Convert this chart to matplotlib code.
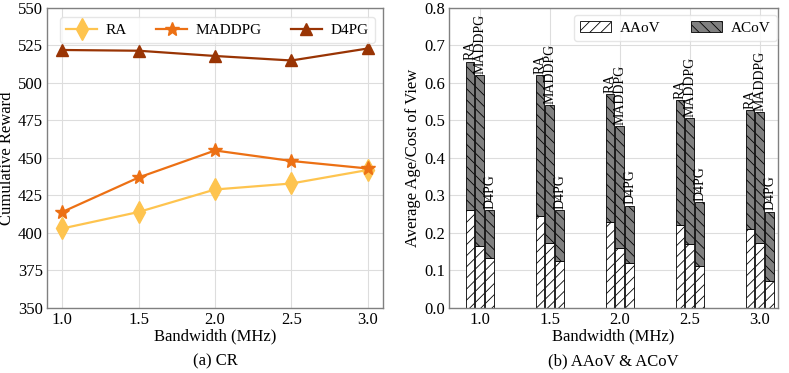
import numpy as np
import matplotlib
matplotlib.use("Agg")
import matplotlib.pyplot as plt
from matplotlib.patches import Patch

plt.rcParams['font.family'] = ['Liberation Serif', 'DejaVu Serif']
plt.rcParams['hatch.linewidth'] = 0.6

bandwidth = [1.0, 1.5, 2.0, 2.5, 3.0]
methods = ['RA', 'MADDPG', 'D4PG']

# cumulative reward
cr_ra = [403, 414, 429, 433, 442]
cr_maddpg = [414, 437, 455, 448, 443]
cr_d4pg = [522, 521.5, 518, 515, 523]

# AAoV and total (AAoV + ACoV)
aaov_ra = [0.262, 0.246, 0.229, 0.220, 0.210]
aaov_maddpg = [0.166, 0.173, 0.160, 0.170, 0.173]
aaov_d4pg = [0.133, 0.126, 0.120, 0.113, 0.072]
total_ra = [0.657, 0.620, 0.570, 0.555, 0.527]
total_maddpg = [0.620, 0.541, 0.485, 0.506, 0.523]
total_d4pg = [0.260, 0.262, 0.273, 0.283, 0.257]

colors = ['#fec44f', '#ec7014', '#993404']
markers = ['d', '*', '^']
spine_c = '#808080'
grid_c = '#dddddd'

fig = plt.figure(figsize=(7.89, 3.73), dpi=100)
ax1 = fig.add_axes([0.0596, 0.1743, 0.4259, 0.8043])
ax2 = fig.add_axes([0.569, 0.1743, 0.417, 0.8043])

for ax in (ax1, ax2):
    ax.set_axisbelow(True)
    ax.grid(True, color=grid_c, linewidth=0.8)
    for s in ax.spines.values():
        s.set_color(spine_c)
        s.set_linewidth(1.0)
    ax.tick_params(length=0, labelsize=12, pad=3)

# (a) CR
for vals, name, c, m in zip([cr_ra, cr_maddpg, cr_d4pg], methods, colors, markers):
    ms = 11 if m == 'd' else (10 if m == '*' else 9)
    ax1.plot(bandwidth, vals, color=c, marker=m, markersize=ms, linewidth=1.6, label=name)
ax1.set_xlim(0.9, 3.1)
ax1.set_ylim(350, 550)
ax1.set_xticks(bandwidth)
ax1.set_yticks(np.arange(350, 551, 25))
ax1.set_xlabel('Bandwidth (MHz)', fontsize=12, labelpad=0)
ax1.set_ylabel('Cumulative Reward', fontsize=12, labelpad=2)
ax1.legend(loc='lower left', ncol=3, fontsize=11, frameon=True, framealpha=0.8,
           edgecolor='#e0e0e0', bbox_to_anchor=(0.039, 0.883, 0.9375, 0.094), mode='expand',
           handlelength=2.0, handletextpad=0.6, borderpad=0.4, borderaxespad=0)

# (b) AAoV & ACoV
w = 0.063
off = 0.07
x = np.array(bandwidth)
groups = [(aaov_ra, total_ra), (aaov_maddpg, total_maddpg), (aaov_d4pg, total_d4pg)]
for i, (aa, tot) in enumerate(groups):
    pos = x + (i - 1) * off
    aa = np.array(aa)
    co = np.array(tot) - aa
    ax2.bar(pos, aa, w, color='white', edgecolor='black', hatch='///', linewidth=0.6)
    ax2.bar(pos, co, w, bottom=aa, color='#808080', edgecolor='black', hatch='\\\\\\', linewidth=0.6)
    for p, t in zip(pos, tot):
        ax2.text(p, t + 0.003, methods[i], rotation=90, ha='center', va='bottom', fontsize=10)
ax2.set_xlim(0.78, 3.13)
ax2.set_ylim(0, 0.8)
ax2.set_xticks(bandwidth)
ax2.set_xticklabels([f'{b:.1f}' for b in bandwidth])
ax2.set_yticks(np.arange(0, 0.81, 0.1))
ax2.set_yticklabels([f'{v:.1f}' for v in np.arange(0, 0.81, 0.1)])
ax2.set_xlabel('Bandwidth (MHz)', fontsize=12, labelpad=0)
ax2.set_ylabel('Average Age/Cost of View', fontsize=12, labelpad=2)
handles = [Patch(facecolor='white', edgecolor='black', hatch='///', linewidth=0.6, label='AAoV'),
           Patch(facecolor='#808080', edgecolor='black', hatch='\\\\\\', linewidth=0.6, label='ACoV')]
ax2.legend(handles=handles, loc='upper right', ncol=2, fontsize=11, frameon=True, framealpha=0.8,
           edgecolor='#e0e0e0', bbox_to_anchor=(0.997, 0.977), columnspacing=2.0,
           handlelength=2.0, handletextpad=0.6, borderpad=0.4, borderaxespad=0)

fig.text(0.0596 + 0.4259 / 2, 0.03, '(a) CR', ha='center', va='center', fontsize=12)
fig.text(0.569 + 0.417 / 2, 0.03, '(b) AAoV & ACoV', ha='center', va='center', fontsize=12)

fig.savefig('out.png', dpi=100)
